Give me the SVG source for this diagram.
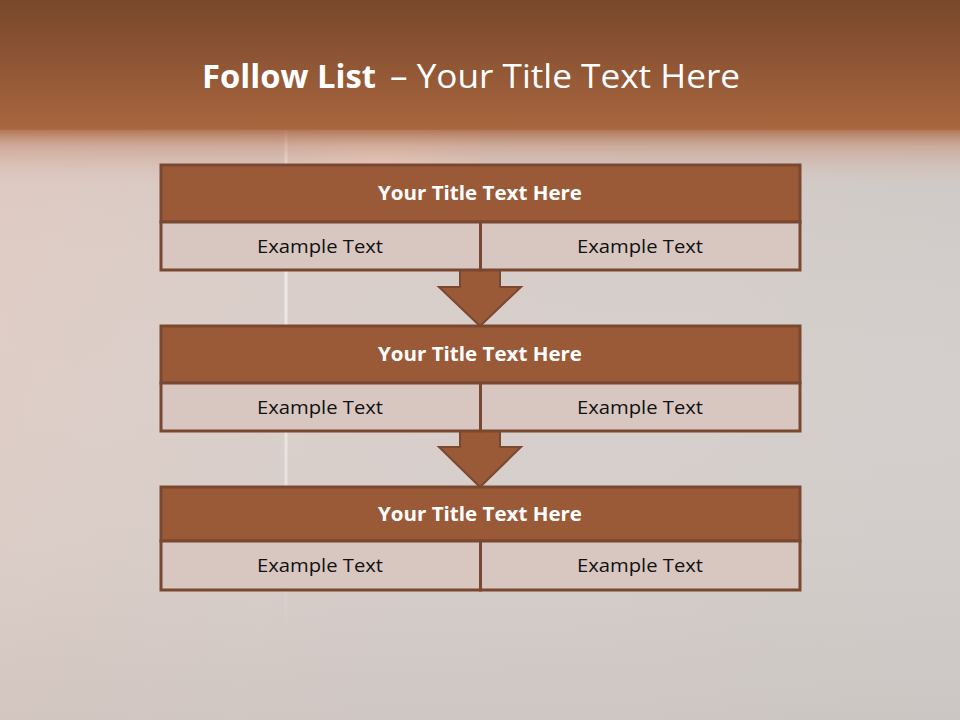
<svg xmlns="http://www.w3.org/2000/svg" width="960" height="720" viewBox="0 0 960 720">
<defs>
<linearGradient id="bgH" x1="0" y1="0" x2="1" y2="0">
<stop offset="0" stop-color="#dcc7bf"/>
<stop offset="0.3" stop-color="#d6c9c4"/>
<stop offset="1" stop-color="#cdc8c5"/>
</linearGradient>
<linearGradient id="bgV" x1="0" y1="0" x2="0" y2="1">
<stop offset="0" stop-color="#ffffff" stop-opacity="0"/>
<stop offset="1" stop-color="#c9c4c1" stop-opacity="0.5"/>
</linearGradient>
<linearGradient id="band" x1="0" y1="0" x2="0" y2="1">
<stop offset="0" stop-color="#77472b"/>
<stop offset="1" stop-color="#a9663f"/>
</linearGradient>
<linearGradient id="fade" x1="0" y1="0" x2="0" y2="1">
<stop offset="0" stop-color="#a9663f" stop-opacity="0.9"/>
<stop offset="0.3" stop-color="#c89680" stop-opacity="0.6"/>
<stop offset="1" stop-color="#e0c8bd" stop-opacity="0"/>
</linearGradient>
<linearGradient id="lineFade" x1="0" y1="0" x2="0" y2="1">
<stop offset="0" stop-color="#ffffff" stop-opacity="0.6"/>
<stop offset="0.7" stop-color="#ffffff" stop-opacity="0.4"/>
<stop offset="1" stop-color="#ffffff" stop-opacity="0"/>
</linearGradient>
<radialGradient id="glow" cx="0.5" cy="0.3" r="0.6">
<stop offset="0" stop-color="#f0d2c4" stop-opacity="0.8"/>
<stop offset="1" stop-color="#f0d2c4" stop-opacity="0"/>
</radialGradient>
<style>
.hdr{fill:#9a5a38;stroke:#7a4830;stroke-width:3}
.row{fill:#d8c6c0;stroke:#7a4830;stroke-width:3}
.arrow{fill:#9a5a38;stroke:#7a4830;stroke-width:2;stroke-linejoin:miter}
.ht{font-family:"Open Sans","DejaVu Sans",sans-serif;font-weight:bold;font-size:19px;fill:#ffffff;text-anchor:middle}
.rt{font-family:"Open Sans","DejaVu Sans",sans-serif;font-size:19px;fill:#111111;text-anchor:middle}
.tt{font-family:"Open Sans","DejaVu Sans",sans-serif;font-size:33px;fill:#ffffff}
</style>
</defs>
<g id="background">
<rect x="0" y="0" width="960" height="720" fill="url(#bgH)"/>
<rect x="0" y="130" width="960" height="590" fill="url(#bgV)"/>
<rect x="280" y="125" width="200" height="120" fill="url(#glow)"/>
<rect x="284.5" y="130" width="3" height="500" fill="url(#lineFade)"/>
<rect x="0" y="0" width="960" height="130" fill="url(#band)"/>
<rect x="0" y="128" width="960" height="60" fill="url(#fade)"/>
</g>
<g id="title">
<text class="tt" x="202" y="88" font-weight="bold" textLength="174" lengthAdjust="spacingAndGlyphs">Follow List</text>
<text class="tt" x="390" y="88" textLength="350" lengthAdjust="spacingAndGlyphs">– Your Title Text Here</text>
</g>
<g id="connectors">
<path class="arrow" d="M460,270 L500,270 L500,287 L521,287 L480,326 L439,287 L460,287 Z"/>
<path class="arrow" d="M460,431 L500,431 L500,447 L521,447 L480,487 L439,447 L460,447 Z"/>
</g>
<g id="node1">
<rect class="hdr" x="161" y="165" width="639" height="57"/>
<rect class="row" x="161" y="222" width="319.5" height="48"/>
<rect class="row" x="480.5" y="222" width="319.5" height="48"/>
<text class="ht" x="480" y="200" textLength="204" lengthAdjust="spacingAndGlyphs">Your Title Text Here</text>
<text class="rt" x="320" y="253" textLength="126" lengthAdjust="spacingAndGlyphs">Example Text</text>
<text class="rt" x="640" y="253" textLength="126" lengthAdjust="spacingAndGlyphs">Example Text</text>
</g>
<g id="node2">
<rect class="hdr" x="161" y="326" width="639" height="57"/>
<rect class="row" x="161" y="383" width="319.5" height="48"/>
<rect class="row" x="480.5" y="383" width="319.5" height="48"/>
<text class="ht" x="480" y="361" textLength="204" lengthAdjust="spacingAndGlyphs">Your Title Text Here</text>
<text class="rt" x="320" y="414" textLength="126" lengthAdjust="spacingAndGlyphs">Example Text</text>
<text class="rt" x="640" y="414" textLength="126" lengthAdjust="spacingAndGlyphs">Example Text</text>
</g>
<g id="node3">
<rect class="hdr" x="161" y="487" width="639" height="54"/>
<rect class="row" x="161" y="541" width="319.5" height="49"/>
<rect class="row" x="480.5" y="541" width="319.5" height="49"/>
<text class="ht" x="480" y="521" textLength="204" lengthAdjust="spacingAndGlyphs">Your Title Text Here</text>
<text class="rt" x="320" y="572" textLength="126" lengthAdjust="spacingAndGlyphs">Example Text</text>
<text class="rt" x="640" y="572" textLength="126" lengthAdjust="spacingAndGlyphs">Example Text</text>
</g>
</svg>
